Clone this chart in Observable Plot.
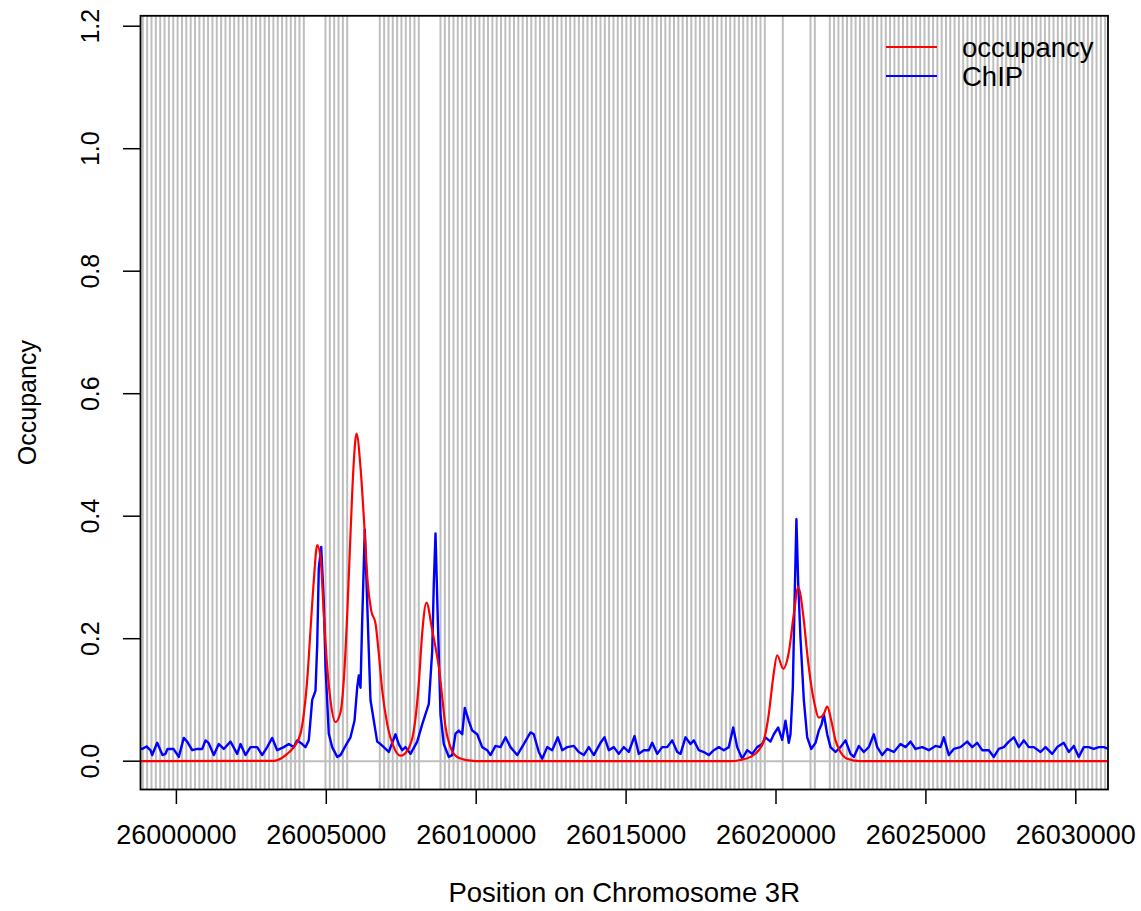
<!DOCTYPE html>
<html><head><meta charset="utf-8">
<script src="https://cdn.jsdelivr.net/npm/d3@7"></script>
<script src="https://cdn.jsdelivr.net/npm/@observablehq/plot@0.6"></script>
<style>html,body{margin:0;padding:0;background:#fff} svg{display:block}</style>
</head><body><div id="chart"></div>
<script>
// Nucleosome site positions (grey vertical lines)
const sitePositions = [
25998879,25999024,25999169,25999315,25999460,25999605,25999750,25999895,26000041,26000186,
26000331,26000476,26000621,26000767,26000912,26001057,26001202,26001347,26001493,26001638,
26001783,26001928,26002073,26002219,26002364,26002509,26002654,26002799,26002945,26003090,
26003235,26003380,26003525,26003671,26003816,26003961,26004106,26004251,
26004973,26005118,26005263,26005408,26005553,26005698,
26006785,26006929,26007074,26007218,26007363,26007507,26007652,26007796,26007941,26008085,
26008809,26008953,26009097,26009242,26009386,26009530,26009674,26009819,26009963,26010107,
26010251,26010395,26010540,26010684,26010828,26010973,26011117,26011261,26011405,26011550,
26011694,26011838,26011982,26012127,26012271,26012415,26012559,26012703,26012848,26012992,
26013136,26013280,26013425,26013569,26013713,26013857,26014002,26014146,26014290,26014434,
26014579,26014723,26014867,26015011,26015156,26015300,26015444,26015588,26015733,26015877,
26016021,26016165,26016309,26016454,26016598,26016742,26016886,26017031,26017175,26017319,
26017463,26017608,26017752,26017896,26018040,26018185,26018329,26018473,26018617,26018762,
26018906,26019050,26019194,26019339,26019483,26019627,
26020227,
26021151,26021295,
26021795,26021939,26022082,26022226,26022369,26022513,26022656,26022800,26022943,26023087,
26023230,26023374,26023517,26023661,26023804,26023948,26024091,26024235,26024378,26024522,
26024665,26024809,26024952,26025096,26025239,26025383,26025526,26025670,26025813,26025957,
26026100,26026244,26026387,26026531,26026674,26026818,26026961,26027105,26027248,26027392,
26027535,26027679,26027822,26027966,26028109,26028253,26028396,26028540,26028683,26028827,
26028970,26029114,26029257,26029401,26029544,26029688,26029831,26029975,26030118,26030262,
26030405,26030549,26030692,26030836,26030979
];

// Predicted occupancy: [position, value]
const occupancySeries = [
[25998800,0],[26003249,0.0005],[26003472,0.004],[26003696,0.012],[26003916,0.023],[26004140,0.045],
[26004250,0.077],[26004363,0.132],[26004473,0.214],[26004584,0.295],[26004697,0.353],[26004807,0.333],
[26004917,0.241],[26005030,0.154],[26005141,0.099],[26005307,0.064],[26005474,0.08],[26005607,0.15],
[26005707,0.25],[26005807,0.37],[26005907,0.48],[26006007,0.535],[26006141,0.48],[26006251,0.399],
[26006384,0.29],[26006498,0.246],[26006641,0.225],[26006751,0.176],[26006865,0.116],[26007031,0.061],
[26007252,0.023],[26007475,0.009],[26007699,0.017],[26007919,0.05],[26008086,0.127],[26008199,0.209],
[26008342,0.259],[26008533,0.214],[26008643,0.186],[26008753,0.154],[26008866,0.105],[26008976,0.056],
[26009143,0.023],[26009366,0.007],[26009810,0.001],[26010140,0],[26018482,0],[26018816,0.002],
[26019150,0.007],[26019427,0.018],[26019594,0.034],[26019760,0.077],[26019907,0.137],[26020040,0.173],
[26020240,0.151],[26020427,0.178],[26020594,0.24],[26020741,0.284],[26020928,0.23],[26021041,0.176],
[26021151,0.132],[26021285,0.094],[26021428,0.071],[26021575,0.075],[26021708,0.089],[26021841,0.067],
[26021985,0.034],[26022152,0.015],[26022375,0.004],[26022819,0],[26031100,0]
];

// ChIP signal: [position, value]
const chipSeries = [
[25998800,0.021],[25998859,0.02],[25999003,0.024],[25999136,0.018],[25999193,0.01],[25999360,0.03],
[25999536,0.01],[25999636,0.012],[25999703,0.02],[25999903,0.02],[26000080,0.007],[26000247,0.038],
[26000360,0.032],[26000527,0.018],[26000694,0.02],[26000861,0.02],[26000971,0.034],[26001071,0.03],
[26001248,0.01],[26001414,0.028],[26001581,0.02],[26001805,0.032],[26002028,0.012],[26002138,0.028],
[26002305,0.01],[26002472,0.023],[26002695,0.023],[26002862,0.01],[26003029,0.023],[26003196,0.038],
[26003362,0.018],[26003582,0.023],[26003749,0.028],[26003916,0.023],[26004029,0.034],[26004196,0.028],
[26004306,0.023],[26004416,0.034],[26004530,0.10],[26004640,0.115],[26004697,0.19],[26004750,0.315],
[26004830,0.35],[26004917,0.26],[26004973,0.155],[26005083,0.045],[26005197,0.023],[26005364,0.007],
[26005474,0.01],[26005641,0.025],[26005807,0.039],[26005941,0.066],[26006031,0.12],[26006084,0.14],
[26006141,0.12],[26006198,0.23],[26006284,0.378],[26006364,0.26],[26006418,0.18],[26006474,0.10],
[26006585,0.066],[26006698,0.032],[26006808,0.028],[26006918,0.023],[26007085,0.015],[26007308,0.044],
[26007418,0.028],[26007532,0.018],[26007642,0.023],[26007809,0.012],[26008032,0.032],[26008199,0.06],
[26008309,0.077],[26008419,0.093],[26008533,0.18],[26008586,0.29],[26008643,0.372],[26008720,0.23],
[26008809,0.077],[26008919,0.028],[26009086,0.007],[26009200,0.01],[26009310,0.045],[26009420,0.05],
[26009533,0.044],[26009620,0.087],[26009753,0.066],[26009867,0.05],[26010034,0.044],[26010200,0.023],
[26010367,0.018],[26010477,0.01],[26010644,0.025],[26010811,0.023],[26010978,0.039],[26011144,0.023],
[26011368,0.01],[26011588,0.028],[26011811,0.047],[26011921,0.044],[26012088,0.015],[26012202,0.004],
[26012368,0.023],[26012535,0.018],[26012722,0.039],[26012869,0.018],[26013036,0.023],[26013256,0.025],
[26013423,0.015],[26013589,0.01],[26013756,0.023],[26013923,0.01],[26014146,0.03],[26014280,0.039],
[26014423,0.018],[26014590,0.023],[26014757,0.012],[26014923,0.023],[26015090,0.015],[26015280,0.041],
[26015424,0.012],[26015590,0.018],[26015757,0.018],[26015871,0.03],[26016038,0.012],[26016204,0.023],
[26016371,0.023],[26016538,0.034],[26016705,0.015],[26016815,0.012],[26016981,0.039],[26017148,0.028],
[26017259,0.034],[26017425,0.018],[26017592,0.015],[26017759,0.01],[26017926,0.018],[26018093,0.023],
[26018259,0.018],[26018426,0.023],[26018573,0.055],[26018706,0.023],[26018873,0.004],[26019040,0.018],
[26019207,0.012],[26019373,0.023],[26019540,0.028],[26019650,0.039],[26019817,0.032],[26019927,0.044],
[26020074,0.055],[26020207,0.035],[26020317,0.066],[26020427,0.03],[26020484,0.044],[26020561,0.12],
[26020628,0.28],[26020681,0.395],[26020741,0.29],[26020818,0.2],[26020928,0.1],[26021041,0.039],
[26021174,0.02],[26021318,0.03],[26021428,0.05],[26021518,0.06],[26021595,0.077],[26021708,0.044],
[26021818,0.023],[26021985,0.015],[26022152,0.023],[26022319,0.034],[26022485,0.012],[26022595,0.007],
[26022762,0.025],[26022929,0.015],[26023096,0.023],[26023263,0.044],[26023376,0.023],[26023543,0.01],
[26023709,0.02],[26023930,0.015],[26024153,0.028],[26024320,0.023],[26024487,0.032],[26024653,0.02],
[26024877,0.023],[26025097,0.018],[26025321,0.025],[26025487,0.023],[26025598,0.039],[26025765,0.01],
[26025931,0.02],[26026155,0.023],[26026378,0.032],[26026545,0.023],[26026711,0.03],[26026878,0.018],
[26027099,0.018],[26027265,0.007],[26027432,0.02],[26027599,0.023],[26027766,0.032],[26027933,0.039],
[26028100,0.023],[26028266,0.034],[26028433,0.023],[26028600,0.023],[26028823,0.015],[26028990,0.023],
[26029213,0.012],[26029380,0.023],[26029600,0.03],[26029767,0.015],[26029934,0.025],[26030100,0.007],
[26030267,0.023],[26030434,0.023],[26030601,0.02],[26030768,0.023],[26030935,0.023],[26031090,0.02]
];

const xTicks = [26000000,26005000,26010000,26015000,26020000,26025000,26030000];
const xTickLabels = ["26000000","26005000","26010000","26015000","26020000","26025000","26030000"];
const yTicks = [0,0.2,0.4,0.6,0.8,1.0,1.2];
const yTickLabels = ["0.0","0.2","0.4","0.6","0.8","1.0","1.2"];
const seriesNames = ["occupancy","ChIP"];
const seriesColors = ["#ff0000","#0000ff"];
const xTitle = "Position on Chromosome 3R";
const yTitle = "Occupancy";

const occ = occupancySeries.map(([x,y]) => ({x, y}));
const chip = chipSeries.map(([x,y]) => ({x, y}));
const font = "'Liberation Sans', Arial, Helvetica, sans-serif";

const plot = Plot.plot({
  width: 1141, height: 911,
  marginLeft: 140, marginRight: 33.5, marginTop: 15.3, marginBottom: 122,
  style: {fontFamily: font, background: "#fff", color: "#000", overflow: "visible"},
  x: {domain: [25998803, 26031074]},
  y: {domain: [-0.0462, 1.217]},
  marks: [
    Plot.ruleX(sitePositions, {stroke: "#bebebe", strokeWidth: 2}),
    Plot.ruleY([0], {stroke: "#bebebe", strokeWidth: 2}),
    Plot.line(chip, {x: "x", y: "y", stroke: seriesColors[1], strokeWidth: 2.4, clip: true}),
    Plot.line(occ, {x: "x", y: "y", stroke: seriesColors[0], strokeWidth: 2.2, curve: "monotone-x", clip: true}),
    Plot.frame({stroke: "#000", strokeWidth: 1.8}),
    Plot.axisX({ticks: xTicks, tickSize: 15, tickFormat: () => "", stroke: "#000", strokeWidth: 1.5, label: null}),
    Plot.axisY({ticks: yTicks, tickSize: 17, tickFormat: () => "", stroke: "#000", strokeWidth: 1.5, label: null}),
    Plot.text(xTicks, {x: d => d, text: (d, i) => xTickLabels[i], frameAnchor: "bottom", dy: 46,
      lineAnchor: "middle", textAnchor: "middle", fontSize: 27, fill: "#000"}),
    Plot.text(yTicks, {y: d => d, text: (d, i) => yTickLabels[i], frameAnchor: "left", dx: -50,
      rotate: -90, lineAnchor: "middle", textAnchor: "middle", fontSize: 25, fill: "#000"}),
    Plot.text([xTitle], {text: d => d, frameAnchor: "bottom", dy: 104, lineAnchor: "middle",
      textAnchor: "middle", fontSize: 27.5, fill: "#000"}),
    Plot.text([yTitle], {text: d => d, frameAnchor: "left", dx: -113, rotate: -90, lineAnchor: "middle",
      textAnchor: "middle", fontSize: 25, fill: "#000"})
  ]
});

// Legend (inside the plot, top right, no box)
const svg = d3.select(plot);
const lg = svg.append("g").attr("font-family", font).attr("font-size", 27.5).attr("text-anchor", "start");
seriesNames.forEach((name, i) => {
  const y = 47 + i * 29;
  lg.append("line").attr("x1", 886).attr("x2", 937).attr("y1", y).attr("y2", y)
    .attr("stroke", seriesColors[i]).attr("stroke-width", 2);
  lg.append("text").attr("x", 962).attr("y", y).attr("dy", "0.35em").attr("fill", "#000")
    .attr("text-anchor", "start").text(name);
});

document.getElementById("chart").appendChild(plot);
</script>
</body></html>
